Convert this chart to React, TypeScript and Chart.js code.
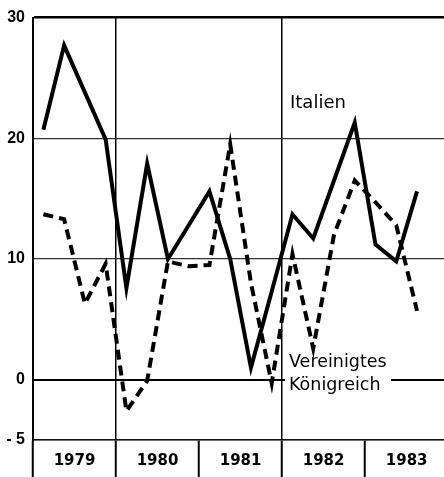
import React, { useEffect, useRef } from 'react';
import { Chart, registerables } from 'chart.js';

Chart.register(...registerables);

// Year labels (each year spans 4 quarters on the x scale)
const years = ['1979', '1980', '1981', '1982', '1983'];
const yearBoundaries = [0, 4, 8, 12, 16];
const fullGridBoundaries = [4, 12];
const yTickValues = [30, 20, 10, 0, -5];

// Quarterly values, Q1 1979 .. Q3 1983
const italien = [20.7, 27.7, 23.8, 19.9, 7.6, 17.9, 10.0, 12.8, 15.6, 10.0, 1.0, 7.3, 13.7, 11.7, 16.5, 21.3, 11.2, 9.8, 15.6];
const vereinigtesKoenigreich = [13.7, 13.3, 6.3, 9.6, -2.6, -0.1, 9.8, 9.4, 9.5, 19.5, 8.0, -0.3, 10.4, 2.6, 12.0, 16.5, 14.7, 12.8, 5.7];

const toPoints = (arr: number[]) => arr.map((v, i) => ({ x: i + 0.5, y: v }));

export default function App() {
  const ref = useRef<HTMLCanvasElement>(null);

  useEffect(() => {
    const annotations = {
      id: 'annotations',
      beforeDatasetsDraw(chart: any) {
        const { ctx } = chart;
        ctx.save();
        ctx.fillStyle = '#fff';
        ctx.fillRect(285, 350, 106, 46);
        ctx.restore();
      },
      afterDatasetsDraw(chart: any) {
        const { ctx } = chart;
        ctx.save();
        ctx.fillStyle = '#000';
        ctx.textAlign = 'left';
        ctx.textBaseline = 'alphabetic';
        ctx.font = '18px "DejaVu Sans"';
        ctx.fillText('Italien', 290, 108);
        ctx.font = '17.5px "DejaVu Sans"';
        ctx.fillText('Vereinigtes', 289, 367);
        ctx.fillText('Königreich', 289, 390);
        ctx.restore();
      },
    };

    const chart = new Chart(ref.current as HTMLCanvasElement, {
      type: 'line',
      data: {
        datasets: [
          {
            label: 'Italien',
            data: toPoints(italien),
            borderColor: '#000',
            borderWidth: 4,
            pointRadius: 0,
            tension: 0,
            fill: false,
            borderJoinStyle: 'miter',
          },
          {
            label: 'Vereinigtes Königreich',
            data: toPoints(vereinigtesKoenigreich),
            borderColor: '#000',
            borderWidth: 4,
            borderDash: [10, 6],
            pointRadius: 0,
            tension: 0,
            fill: false,
            borderJoinStyle: 'miter',
          },
        ],
      },
      options: {
        responsive: false,
        animation: false,
        devicePixelRatio: 1,
        layout: { padding: { top: 15, right: 0, left: 0, bottom: 0 } },
        plugins: { legend: { display: false }, tooltip: { enabled: false } },
        scales: {
          x: {
            type: 'linear',
            min: 0,
            max: 19.8,
            position: 'bottom',
            afterBuildTicks: (s: any) => {
              const t: any[] = [];
              yearBoundaries.forEach((b) => {
                t.push({ value: b });
                t.push({ value: b + 2 });
              });
              s.ticks = t;
            },
            afterFit: (s: any) => {
              s.height = 37;
            },
            grid: {
              color: (c: any) => (fullGridBoundaries.includes(c.tick?.value) ? '#000' : 'rgba(0,0,0,0)'),
              lineWidth: 1.5,
              tickColor: (c: any) => (yearBoundaries.includes(c.tick?.value) ? '#000' : 'rgba(0,0,0,0)'),
              tickWidth: 2,
              tickLength: 37,
              drawTicks: true,
            },
            border: { display: true, color: '#111', width: 1.5 },
            ticks: {
              autoSkip: false,
              maxRotation: 0,
              minRotation: 0,
              padding: -25,
              color: '#000',
              font: { family: '"DejaVu Sans"', size: 15, weight: 'bold' },
              callback: (v: any) => {
                const n = Number(v);
                if (n % 4 === 2) return years[(n - 2) / 4] ?? '';
                return '';
              },
            },
          },
          y: {
            min: -5,
            max: 30,
            afterBuildTicks: (s: any) => {
              s.ticks = yTickValues.map((v) => ({ value: v }));
            },
            afterFit: (s: any) => {
              s.width = 33;
            },
            grid: {
              color: (c: any) => (c.tick?.value === 0 || c.tick?.value === 30 ? '#000' : '#333'),
              lineWidth: (c: any) => (c.tick?.value === 0 ? 2 : c.tick?.value === 30 ? 2.5 : 1.2),
              drawTicks: false,
            },
            border: { display: true, color: '#000', width: 2 },
            ticks: {
              padding: 8,
              color: '#000',
              font: { family: '"Liberation Sans"', size: 16, weight: 'bold' },
              callback: (v: any) => (Number(v) === -5 ? '- 5' : String(v)),
            },
          },
        },
      },
      plugins: [annotations],
    } as any);

    return () => chart.destroy();
  }, []);

  return (
    <div style={{ position: 'absolute', left: 0, top: 0, width: 444, height: 477, background: '#fff' }}>
      <canvas ref={ref} width={444} height={477} style={{ display: 'block' }} />
    </div>
  );
}
